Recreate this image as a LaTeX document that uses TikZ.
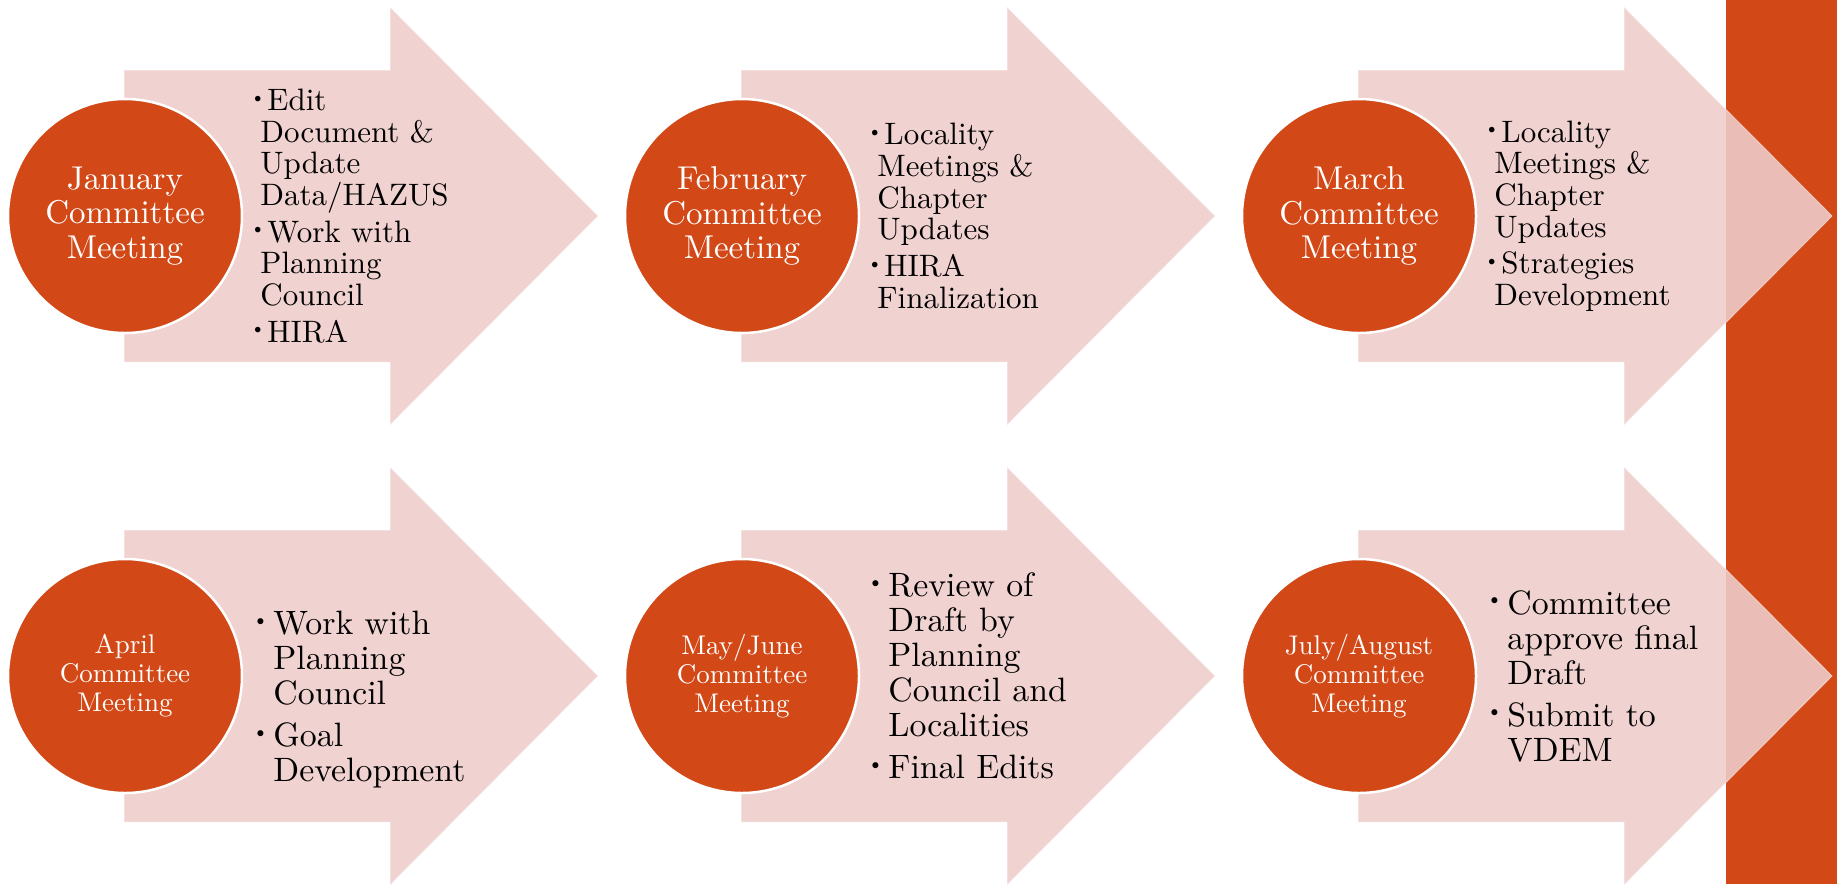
\documentclass[tikz,border=0pt]{standalone}
\usepackage{fontspec}
\usepackage{graphicx}
\usetikzlibrary{positioning}

\setmainfont{lmroman10-regular.otf}[BoldFont=lmroman10-bold.otf]

\definecolor{meetred}{HTML}{D24817}
\definecolor{steppink}{HTML}{EECCCA}

\newcommand{\dotmark}{\hspace*{-5pt}\raisebox{.24em}{\scalebox{.62}{\textbullet}}}
\newcommand{\bitem}[1][12pt]{\makebox[#1][l]{\dotmark}\ignorespaces}
\newcommand{\bcont}[1][5pt]{\hspace*{#1}\ignorespaces}

\tikzset{
  meeting/.style={circle, fill=meetred, draw=white, line width=2.5pt,
    minimum size=234pt, inner sep=0pt, text=white, align=center},
  bigmonth/.style={font=\fontsize{33}{34.5}\selectfont},
  smallmonth/.style={font=\fontsize{27}{29}\selectfont},
  tasks/.style={align=left, inner sep=0pt},
  toptasks/.style={tasks, font=\fontsize{31}{31.7}\selectfont},
  lowtasks/.style={tasks, font=\fontsize{33.8}{35}\selectfont},
  steparrow/.pic={
    \path[fill=steppink, fill opacity=.89, draw=white, draw opacity=.45, line width=1pt]
      (-1,-146) -- (265,-146) -- (265,-209) -- (473,0) -- (265,209)
      -- (265,146) -- (-1,146) -- cycle;
  }
}

\begin{document}
\begin{tikzpicture}[x=1pt, y=-1pt]
  \useasboundingbox (0,0) rectangle (1837,884);
  \fill[meetred] (1726,0) rectangle (1837,884);
  \foreach \cx in {125,742,1359} {
    \pic at (\cx,216) {steparrow};
    \pic at (\cx,676) {steparrow};
  }

  % first row
  \node[meeting, bigmonth] (jan) at (125,216) {January\\Committee\\Meeting};
  \node[toptasks, right=12pt of jan] (jantasks)
    {\bitem Edit\\ \bcont Document \&\\ \bcont Update\\ \bcont Data/HAZUS\\[5pt]
     \bitem Work with\\ \bcont Planning\\ \bcont Council\\[5pt]
     \bitem HIRA};
  \node[meeting, bigmonth] (feb) at (742,216) {February\\Committee\\Meeting};
  \node[toptasks, right=12pt of feb] (febtasks)
    {\bitem Locality\\ \bcont Meetings \&\\ \bcont Chapter\\ \bcont Updates\\[5pt]
     \bitem HIRA\\ \bcont Finalization};
  \node[meeting, bigmonth] (mar) at (1359,216) {March\\Committee\\Meeting};
  \node[toptasks, right=12pt of mar] (martasks)
    {\bitem Locality\\ \bcont Meetings \&\\ \bcont Chapter\\ \bcont Updates\\[5pt]
     \bitem Strategies\\ \bcont Development};

  % second row
  \node[meeting, smallmonth] (apr) at (125,676) {April\\Committee\\Meeting};
  \node[lowtasks, right=14pt of apr, yshift=-24pt] (aprtasks)
    {\bitem[16pt] Work with\\ \bcont[16pt] Planning\\ \bcont[16pt] Council\\[7pt]
     \bitem[16pt] Goal\\ \bcont[16pt] Development};
  \node[meeting, smallmonth] (mayjun) at (742,676) {May/June\\Committee\\Meeting};
  \node[lowtasks, right=12pt of mayjun] (mayjuntasks)
    {\bitem[16pt] Review of\\ \bcont[16pt] Draft by\\ \bcont[16pt] Planning\\
     \bcont[16pt] Council and\\ \bcont[16pt] Localities\\[7pt]
     \bitem[16pt] Final Edits};
  \node[meeting, smallmonth] (julaug) at (1359,676) {July/August\\Committee\\Meeting};
  \node[lowtasks, right=14pt of julaug] (julaugtasks)
    {\bitem[16pt] Committee\\ \bcont[16pt] approve final\\ \bcont[16pt] Draft\\[7pt]
     \bitem[16pt] Submit to\\ \bcont[16pt] VDEM};
\end{tikzpicture}
\end{document}
